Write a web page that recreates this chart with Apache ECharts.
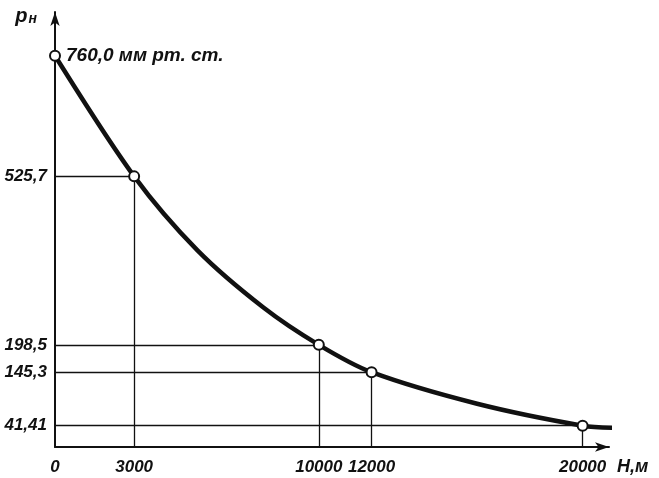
<!DOCTYPE html>
<html>
<head>
<meta charset="utf-8">
<script src="https://cdn.jsdelivr.net/npm/echarts@6/dist/echarts.min.js"></script>
<style>
  html, body { margin: 0; padding: 0; background: #fff; }
  #chart { width: 659px; height: 478px; }
</style>
</head>
<body>
<div id="chart"></div>
<script>
// marked points: altitude (m) and pressure (mm Hg)
const heights = [0, 3000, 10000, 12000, 20000];
const pressures = [760.0, 525.7, 198.5, 145.3, 41.41];
const pressureLabels = ["760,0", "525,7", "198,5", "145,3", "41,41"];
const heightLabels = ["0", "3000", "10000", "12000", "20000"];
const unitText = "мм рт. ст.";

// curve (goes a bit past the last point)
const curveHeights = [0, 3000, 5400, 7900, 10000, 12000, 16000, 20000, 21250];
const curvePressures = [760, 525.7, 382, 271, 198.5, 145.3, 84, 41.41, 37];

const fontFamily = "Liberation Sans, Arial, sans-serif";

var myChart = echarts.init(document.getElementById("chart"));

const points = heights.map((h, i) => [h, pressures[i]]);
const curve = curveHeights.map((h, i) => [h, curvePressures[i]]);

// guide lines: from y axis to point, then down to x axis
const guides = [];
heights.forEach((h, i) => {
  if (h === 0) return;
  guides.push([{ coord: [0, pressures[i]] }, { coord: [h, pressures[i]] }]);
  guides.push([{ coord: [h, pressures[i]] }, { coord: [h, 0] }]);
});

const labelStyle = {
  color: "#111",
  fontFamily: fontFamily,
  fontStyle: "italic",
  fontWeight: "bold",
  fontSize: 17,
};

myChart.setOption({
  backgroundColor: "#fff",
  animation: false,
  grid: { left: 55, right: 50, top: 12, bottom: 31 },
  xAxis: {
    type: "value",
    min: 0,
    max: 21000,
    name: "H,м",
    nameLocation: "end",
    nameGap: 8,
    nameTextStyle: Object.assign({}, labelStyle, {
      fontSize: 18,
      verticalAlign: "top",
      padding: [11, 0, 0, 0],
    }),
    splitLine: { show: false },
    axisTick: { show: false },
    axisLine: {
      lineStyle: { color: "#111", width: 2 },
      symbol: ["none", "arrow"],
      symbolSize: [7, 14],
    },
    axisLabel: Object.assign({}, labelStyle, {
      customValues: heights,
      margin: 12,
      fontSize: 17,
      formatter: (v) => {
        const i = heights.indexOf(v);
        return i >= 0 ? heightLabels[i] : "";
      },
    }),
  },
  yAxis: {
    type: "value",
    min: 0,
    max: 845,
    name: "{p|p}{s|н}",
    nameLocation: "end",
    nameGap: -4,
    nameTextStyle: {
      align: "right",
      verticalAlign: "middle",
      padding: [0, 18, 0, 0],
      rich: {
        p: {
          fontFamily: fontFamily,
          fontStyle: "italic",
          fontWeight: "bold",
          fontSize: 20,
          color: "#111",
        },
        s: {
          fontFamily: fontFamily,
          fontStyle: "italic",
          fontWeight: "bold",
          fontSize: 14,
          color: "#111",
          padding: [6, 0, 0, 1],
        },
      },
    },
    splitLine: { show: false },
    axisTick: { show: false },
    axisLine: {
      lineStyle: { color: "#111", width: 2 },
      symbol: ["none", "arrow"],
      symbolSize: [7, 14],
    },
    axisLabel: Object.assign({}, labelStyle, {
      customValues: pressures.slice(1),
      margin: 8,
      formatter: (v) => {
        const i = pressures.indexOf(v);
        return i >= 0 ? pressureLabels[i] : "";
      },
    }),
  },
  series: [
    {
      type: "line",
      data: curve,
      smooth: 0.3,
      symbol: "none",
      clip: false,
      lineStyle: { color: "#111", width: 4.5 },
      z: 3,
      markLine: {
        silent: true,
        symbol: ["none", "none"],
        label: { show: false },
        lineStyle: { color: "#111", width: 1.3, type: "solid" },
        data: guides,
      },
    },
    {
      type: "scatter",
      data: points,
      symbol: "circle",
      symbolSize: 10,
      itemStyle: { color: "#fff", borderColor: "#111", borderWidth: 2, opacity: 1 },
      z: 5,
      label: Object.assign({}, labelStyle, {
        show: true,
        position: "right",
        distance: 5,
        fontSize: 19,
        formatter: (p) =>
          p.dataIndex === 0 ? pressureLabels[0] + " " + unitText : "",
      }),
    },
  ],
});
</script>
</body>
</html>
